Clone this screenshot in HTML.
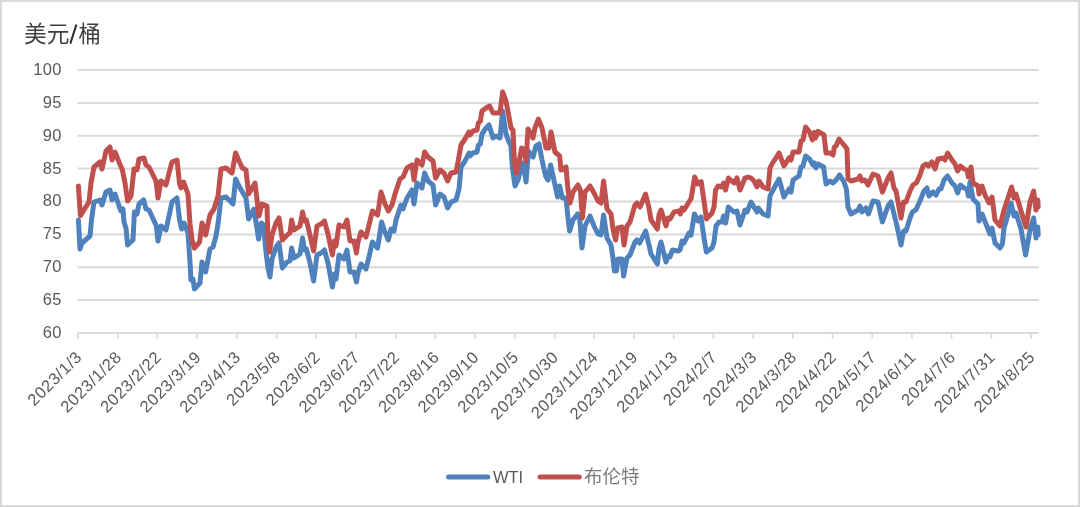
<!DOCTYPE html>
<html><head><meta charset="utf-8"><title>chart</title>
<style>
html,body{margin:0;padding:0;background:#fff;}
body{width:1080px;height:507px;overflow:hidden;}
svg{display:block;font-family:"Liberation Sans",sans-serif;will-change:transform;}
</style></head><body>
<svg width="1080" height="507" viewBox="0 0 1080 507">
<rect x="0" y="0" width="1080" height="507" fill="#ffffff"/>
<path d="M0,0H1080V507H0Z M2,2V505H1078V2Z" fill="#d9d9d9" fill-rule="evenodd"/>
<line x1="77.6" y1="333.00" x2="1038.7" y2="333.00" stroke="#d9d9d9" stroke-width="2"/>
<text x="61.8" y="337.90" text-anchor="end" letter-spacing="0.3" font-size="16.5" fill="#595959">60</text>
<line x1="77.6" y1="300.12" x2="1038.7" y2="300.12" stroke="#d9d9d9" stroke-width="2"/>
<text x="61.8" y="305.02" text-anchor="end" letter-spacing="0.3" font-size="16.5" fill="#595959">65</text>
<line x1="77.6" y1="267.25" x2="1038.7" y2="267.25" stroke="#d9d9d9" stroke-width="2"/>
<text x="61.8" y="272.15" text-anchor="end" letter-spacing="0.3" font-size="16.5" fill="#595959">70</text>
<line x1="77.6" y1="234.38" x2="1038.7" y2="234.38" stroke="#d9d9d9" stroke-width="2"/>
<text x="61.8" y="239.28" text-anchor="end" letter-spacing="0.3" font-size="16.5" fill="#595959">75</text>
<line x1="77.6" y1="201.50" x2="1038.7" y2="201.50" stroke="#d9d9d9" stroke-width="2"/>
<text x="61.8" y="206.40" text-anchor="end" letter-spacing="0.3" font-size="16.5" fill="#595959">80</text>
<line x1="77.6" y1="168.62" x2="1038.7" y2="168.62" stroke="#d9d9d9" stroke-width="2"/>
<text x="61.8" y="173.53" text-anchor="end" letter-spacing="0.3" font-size="16.5" fill="#595959">85</text>
<line x1="77.6" y1="135.75" x2="1038.7" y2="135.75" stroke="#d9d9d9" stroke-width="2"/>
<text x="61.8" y="140.65" text-anchor="end" letter-spacing="0.3" font-size="16.5" fill="#595959">90</text>
<line x1="77.6" y1="102.88" x2="1038.7" y2="102.88" stroke="#d9d9d9" stroke-width="2"/>
<text x="61.8" y="107.78" text-anchor="end" letter-spacing="0.3" font-size="16.5" fill="#595959">95</text>
<line x1="77.6" y1="70.00" x2="1038.7" y2="70.00" stroke="#d9d9d9" stroke-width="2"/>
<text x="61.8" y="74.90" text-anchor="end" letter-spacing="0.3" font-size="16.5" fill="#595959">100</text>
<line x1="78.00" y1="333.00" x2="78.00" y2="338.80" stroke="#d9d9d9" stroke-width="1.6"/>
<text transform="translate(82.90,358.10) rotate(-45)" text-anchor="end" letter-spacing="0.55" font-size="16.5" fill="#595959">2023/1/3</text>
<line x1="117.71" y1="333.00" x2="117.71" y2="338.80" stroke="#d9d9d9" stroke-width="1.6"/>
<text transform="translate(122.61,358.10) rotate(-45)" text-anchor="end" letter-spacing="0.55" font-size="16.5" fill="#595959">2023/1/28</text>
<line x1="157.42" y1="333.00" x2="157.42" y2="338.80" stroke="#d9d9d9" stroke-width="1.6"/>
<text transform="translate(162.32,358.10) rotate(-45)" text-anchor="end" letter-spacing="0.55" font-size="16.5" fill="#595959">2023/2/22</text>
<line x1="197.13" y1="333.00" x2="197.13" y2="338.80" stroke="#d9d9d9" stroke-width="1.6"/>
<text transform="translate(202.03,358.10) rotate(-45)" text-anchor="end" letter-spacing="0.55" font-size="16.5" fill="#595959">2023/3/19</text>
<line x1="236.84" y1="333.00" x2="236.84" y2="338.80" stroke="#d9d9d9" stroke-width="1.6"/>
<text transform="translate(241.74,358.10) rotate(-45)" text-anchor="end" letter-spacing="0.55" font-size="16.5" fill="#595959">2023/4/13</text>
<line x1="276.55" y1="333.00" x2="276.55" y2="338.80" stroke="#d9d9d9" stroke-width="1.6"/>
<text transform="translate(281.45,358.10) rotate(-45)" text-anchor="end" letter-spacing="0.55" font-size="16.5" fill="#595959">2023/5/8</text>
<line x1="316.26" y1="333.00" x2="316.26" y2="338.80" stroke="#d9d9d9" stroke-width="1.6"/>
<text transform="translate(321.16,358.10) rotate(-45)" text-anchor="end" letter-spacing="0.55" font-size="16.5" fill="#595959">2023/6/2</text>
<line x1="355.97" y1="333.00" x2="355.97" y2="338.80" stroke="#d9d9d9" stroke-width="1.6"/>
<text transform="translate(360.87,358.10) rotate(-45)" text-anchor="end" letter-spacing="0.55" font-size="16.5" fill="#595959">2023/6/27</text>
<line x1="395.68" y1="333.00" x2="395.68" y2="338.80" stroke="#d9d9d9" stroke-width="1.6"/>
<text transform="translate(400.58,358.10) rotate(-45)" text-anchor="end" letter-spacing="0.55" font-size="16.5" fill="#595959">2023/7/22</text>
<line x1="435.39" y1="333.00" x2="435.39" y2="338.80" stroke="#d9d9d9" stroke-width="1.6"/>
<text transform="translate(440.29,358.10) rotate(-45)" text-anchor="end" letter-spacing="0.55" font-size="16.5" fill="#595959">2023/8/16</text>
<line x1="475.10" y1="333.00" x2="475.10" y2="338.80" stroke="#d9d9d9" stroke-width="1.6"/>
<text transform="translate(480.00,358.10) rotate(-45)" text-anchor="end" letter-spacing="0.55" font-size="16.5" fill="#595959">2023/9/10</text>
<line x1="514.81" y1="333.00" x2="514.81" y2="338.80" stroke="#d9d9d9" stroke-width="1.6"/>
<text transform="translate(519.71,358.10) rotate(-45)" text-anchor="end" letter-spacing="0.55" font-size="16.5" fill="#595959">2023/10/5</text>
<line x1="554.52" y1="333.00" x2="554.52" y2="338.80" stroke="#d9d9d9" stroke-width="1.6"/>
<text transform="translate(559.42,358.10) rotate(-45)" text-anchor="end" letter-spacing="0.55" font-size="16.5" fill="#595959">2023/10/30</text>
<line x1="594.23" y1="333.00" x2="594.23" y2="338.80" stroke="#d9d9d9" stroke-width="1.6"/>
<text transform="translate(599.13,358.10) rotate(-45)" text-anchor="end" letter-spacing="0.55" font-size="16.5" fill="#595959">2023/11/24</text>
<line x1="633.94" y1="333.00" x2="633.94" y2="338.80" stroke="#d9d9d9" stroke-width="1.6"/>
<text transform="translate(638.84,358.10) rotate(-45)" text-anchor="end" letter-spacing="0.55" font-size="16.5" fill="#595959">2023/12/19</text>
<line x1="673.65" y1="333.00" x2="673.65" y2="338.80" stroke="#d9d9d9" stroke-width="1.6"/>
<text transform="translate(678.55,358.10) rotate(-45)" text-anchor="end" letter-spacing="0.55" font-size="16.5" fill="#595959">2024/1/13</text>
<line x1="713.36" y1="333.00" x2="713.36" y2="338.80" stroke="#d9d9d9" stroke-width="1.6"/>
<text transform="translate(718.26,358.10) rotate(-45)" text-anchor="end" letter-spacing="0.55" font-size="16.5" fill="#595959">2024/2/7</text>
<line x1="753.07" y1="333.00" x2="753.07" y2="338.80" stroke="#d9d9d9" stroke-width="1.6"/>
<text transform="translate(757.97,358.10) rotate(-45)" text-anchor="end" letter-spacing="0.55" font-size="16.5" fill="#595959">2024/3/3</text>
<line x1="792.78" y1="333.00" x2="792.78" y2="338.80" stroke="#d9d9d9" stroke-width="1.6"/>
<text transform="translate(797.68,358.10) rotate(-45)" text-anchor="end" letter-spacing="0.55" font-size="16.5" fill="#595959">2024/3/28</text>
<line x1="832.49" y1="333.00" x2="832.49" y2="338.80" stroke="#d9d9d9" stroke-width="1.6"/>
<text transform="translate(837.39,358.10) rotate(-45)" text-anchor="end" letter-spacing="0.55" font-size="16.5" fill="#595959">2024/4/22</text>
<line x1="872.20" y1="333.00" x2="872.20" y2="338.80" stroke="#d9d9d9" stroke-width="1.6"/>
<text transform="translate(877.10,358.10) rotate(-45)" text-anchor="end" letter-spacing="0.55" font-size="16.5" fill="#595959">2024/5/17</text>
<line x1="911.91" y1="333.00" x2="911.91" y2="338.80" stroke="#d9d9d9" stroke-width="1.6"/>
<text transform="translate(916.81,358.10) rotate(-45)" text-anchor="end" letter-spacing="0.55" font-size="16.5" fill="#595959">2024/6/11</text>
<line x1="951.62" y1="333.00" x2="951.62" y2="338.80" stroke="#d9d9d9" stroke-width="1.6"/>
<text transform="translate(956.52,358.10) rotate(-45)" text-anchor="end" letter-spacing="0.55" font-size="16.5" fill="#595959">2024/7/6</text>
<line x1="991.33" y1="333.00" x2="991.33" y2="338.80" stroke="#d9d9d9" stroke-width="1.6"/>
<text transform="translate(996.23,358.10) rotate(-45)" text-anchor="end" letter-spacing="0.55" font-size="16.5" fill="#595959">2024/7/31</text>
<line x1="1031.04" y1="333.00" x2="1031.04" y2="338.80" stroke="#d9d9d9" stroke-width="1.6"/>
<text transform="translate(1035.94,358.10) rotate(-45)" text-anchor="end" letter-spacing="0.55" font-size="16.5" fill="#595959">2024/8/25</text>
<path d="M78.4,220.0 L80.0,249.0 L82.0,243.0 L90.0,236.0 L91.6,219.0 L94.0,202.0 L100.0,200.0 L102.0,205.0 L106.0,192.0 L110.0,190.0 L112.0,200.0 L115.0,194.0 L119.0,206.0 L121.0,211.0 L123.0,209.0 L124.0,222.0 L126.0,228.0 L127.6,245.0 L133.0,240.0 L134.4,212.0 L137.0,214.0 L139.0,204.0 L143.6,200.0 L146.0,209.0 L149.0,210.0 L156.4,226.0 L158.0,241.0 L161.0,226.0 L166.0,230.0 L169.0,216.0 L172.0,202.0 L177.0,198.0 L179.6,220.0 L181.6,229.0 L184.0,223.0 L188.0,233.0 L190.0,262.0 L191.0,280.0 L193.0,279.0 L194.4,289.0 L200.0,283.0 L202.0,262.0 L205.6,272.0 L210.0,249.0 L213.0,247.0 L216.0,236.0 L218.0,224.0 L221.0,198.0 L226.0,197.0 L233.0,204.0 L235.6,179.0 L239.0,186.0 L242.4,192.0 L246.0,198.0 L248.6,219.0 L254.0,209.0 L258.6,239.0 L261.4,223.0 L263.6,225.0 L266.0,252.0 L268.0,268.0 L270.0,277.0 L272.0,259.0 L276.0,247.0 L279.0,243.0 L282.4,268.0 L287.0,262.0 L290.0,261.0 L291.6,248.0 L294.0,258.0 L300.0,254.0 L302.6,238.0 L304.4,250.0 L306.4,249.0 L310.0,263.0 L313.6,281.0 L317.0,255.0 L321.0,253.0 L324.4,250.0 L328.0,263.0 L332.4,287.0 L334.4,274.0 L336.0,279.0 L339.0,255.0 L344.0,259.0 L347.0,250.0 L350.0,272.0 L354.0,272.0 L356.4,282.0 L358.0,273.0 L361.0,264.0 L366.0,269.0 L369.0,257.0 L372.4,242.0 L377.6,248.0 L381.6,222.0 L385.0,232.0 L388.4,240.0 L391.0,229.0 L394.0,231.0 L396.0,220.0 L401.0,205.0 L403.0,209.0 L407.0,198.0 L412.0,190.0 L414.0,204.0 L417.0,183.0 L422.0,188.0 L424.6,173.0 L428.0,181.0 L433.0,185.0 L435.6,205.0 L440.0,194.0 L444.0,197.0 L447.6,208.0 L451.0,202.0 L456.0,200.0 L459.0,189.0 L461.0,167.0 L465.0,161.0 L469.0,153.0 L470.0,156.0 L473.0,153.0 L477.0,152.0 L478.4,145.0 L480.4,144.0 L482.0,134.0 L486.0,128.0 L489.0,125.0 L493.0,138.0 L496.0,136.0 L500.0,138.0 L502.6,111.0 L506.0,134.0 L509.0,142.0 L511.0,146.0 L512.4,168.0 L515.0,186.0 L518.0,180.0 L522.4,163.0 L524.0,167.0 L526.0,182.0 L528.4,151.0 L533.0,157.0 L536.0,146.0 L539.0,144.0 L542.0,160.0 L545.6,176.0 L548.0,180.0 L550.6,165.0 L555.0,185.0 L557.6,197.0 L559.6,186.0 L562.4,198.0 L566.0,198.0 L568.0,218.0 L569.6,231.0 L573.0,220.0 L577.6,214.0 L579.6,218.0 L582.0,248.0 L585.0,226.0 L590.0,216.0 L594.0,226.0 L598.0,234.0 L601.0,235.0 L603.6,215.0 L607.0,238.0 L611.0,245.0 L613.0,258.0 L614.4,271.0 L616.4,271.0 L618.0,259.0 L622.0,259.0 L623.6,276.0 L627.0,258.0 L630.0,255.0 L635.0,242.0 L637.0,240.0 L639.6,243.0 L645.6,231.0 L649.0,245.0 L651.0,254.0 L657.4,264.0 L659.0,249.0 L661.0,242.0 L666.0,262.0 L668.0,256.0 L670.0,257.0 L672.4,250.0 L678.0,251.0 L680.0,250.0 L682.0,241.0 L684.0,243.0 L689.0,233.0 L691.0,235.0 L694.4,214.0 L698.0,221.0 L701.0,217.0 L704.0,238.0 L706.4,252.0 L712.0,248.0 L714.0,242.0 L716.0,226.0 L719.0,222.0 L722.0,222.0 L723.6,216.0 L725.6,223.0 L728.4,207.0 L734.0,212.0 L737.0,211.0 L740.0,225.0 L745.0,210.0 L747.0,212.0 L751.0,202.0 L757.0,212.0 L758.4,208.0 L763.0,214.0 L768.0,216.0 L770.0,196.0 L772.0,192.0 L779.0,179.0 L784.0,197.0 L789.0,189.0 L791.0,192.0 L793.0,180.0 L799.0,176.0 L801.0,167.0 L803.0,166.0 L805.6,156.0 L809.6,159.0 L813.0,165.0 L814.4,163.0 L816.0,168.0 L818.0,164.0 L823.6,167.0 L826.0,184.0 L830.0,181.0 L833.0,183.0 L836.0,180.0 L839.6,175.0 L844.0,182.0 L846.4,189.0 L848.0,207.0 L851.0,214.0 L858.0,210.0 L860.0,206.0 L862.0,212.0 L866.0,208.0 L868.4,214.0 L873.0,201.0 L878.0,202.0 L882.4,222.0 L888.0,206.0 L891.0,202.0 L894.0,214.0 L897.0,226.0 L901.0,245.0 L903.6,231.0 L906.0,231.0 L910.0,218.0 L912.4,212.0 L916.0,209.6 L920.0,201.0 L924.0,191.0 L927.0,188.0 L929.0,196.0 L933.0,192.0 L936.0,195.0 L939.0,189.0 L941.0,189.0 L944.0,180.0 L947.6,176.0 L952.0,183.0 L955.0,186.0 L957.6,193.0 L960.4,185.0 L964.0,188.0 L967.0,189.0 L968.4,196.0 L970.0,182.0 L973.0,199.0 L978.0,204.0 L979.0,221.0 L982.0,214.0 L986.0,224.0 L990.0,234.0 L992.0,228.0 L995.0,243.0 L1000.0,248.0 L1002.4,244.0 L1004.0,228.0 L1007.0,218.0 L1011.0,203.0 L1014.0,216.0 L1016.0,213.0 L1021.0,229.0 L1025.6,255.0 L1030.0,230.0 L1033.6,218.0 L1036.0,238.0 L1037.8,227.0 L1038.2,235.0" fill="none" stroke="#4f81bd" stroke-width="5.0" stroke-linejoin="round" stroke-linecap="round"/>
<path d="M78.4,186.0 L80.4,215.6 L89.0,202.0 L91.0,183.0 L94.0,167.0 L100.0,162.0 L102.0,169.0 L106.0,151.0 L110.0,147.0 L112.0,160.0 L115.0,152.0 L119.0,162.0 L122.4,170.0 L125.0,183.0 L127.6,201.0 L131.0,196.0 L134.0,169.0 L137.0,170.0 L139.0,159.0 L144.0,158.0 L146.0,165.0 L149.0,167.0 L156.0,181.0 L158.0,198.0 L161.0,181.0 L166.0,185.0 L169.0,173.0 L172.0,162.0 L177.0,160.0 L179.6,184.0 L181.0,188.0 L183.6,182.0 L188.0,194.0 L190.0,224.0 L192.0,240.0 L194.4,248.0 L199.6,242.0 L202.0,223.0 L205.6,235.0 L210.0,215.0 L214.0,209.0 L218.0,196.0 L221.0,169.0 L226.0,168.0 L232.0,173.0 L235.6,153.0 L239.0,161.0 L242.4,168.0 L246.0,170.0 L248.6,194.0 L255.0,183.0 L259.0,216.0 L262.0,204.0 L267.0,206.0 L268.0,240.0 L269.6,252.0 L272.0,235.0 L276.0,223.0 L279.0,218.0 L282.4,240.0 L287.0,235.0 L290.0,233.0 L291.6,220.0 L294.0,230.0 L300.0,226.0 L302.6,212.0 L304.4,221.0 L306.4,220.0 L309.0,231.0 L313.6,251.0 L317.0,226.0 L321.0,224.0 L324.4,221.0 L328.0,234.0 L332.4,255.0 L334.4,241.0 L336.0,246.0 L339.0,225.0 L344.0,227.0 L347.0,220.0 L350.0,241.0 L354.0,241.0 L356.4,253.0 L358.0,242.0 L361.0,232.0 L366.0,237.0 L369.0,225.0 L372.4,211.0 L377.6,215.0 L381.0,192.0 L385.0,204.0 L388.4,211.0 L392.0,205.0 L395.0,194.0 L400.0,179.0 L403.0,177.0 L407.0,168.0 L412.0,165.0 L414.0,180.0 L417.0,160.0 L422.0,165.0 L424.6,152.0 L428.0,157.0 L433.0,161.0 L435.6,178.0 L440.0,170.0 L444.0,173.0 L447.6,181.0 L451.0,173.0 L456.0,172.0 L458.0,162.0 L461.0,145.0 L465.0,139.0 L469.0,132.0 L470.0,135.0 L473.0,131.0 L477.0,130.0 L478.4,123.0 L480.4,121.0 L482.0,111.0 L486.0,108.0 L489.6,106.0 L493.0,113.0 L500.0,113.0 L502.6,92.0 L506.0,101.0 L509.0,117.0 L511.0,128.0 L513.0,130.0 L514.4,160.0 L516.0,173.0 L518.0,168.0 L521.6,148.0 L524.0,150.0 L526.0,161.0 L528.0,129.0 L533.0,138.0 L535.0,128.0 L538.4,119.0 L542.0,128.0 L546.0,148.0 L549.0,148.0 L551.0,132.0 L555.0,152.0 L559.6,156.0 L561.0,170.0 L566.0,167.0 L568.0,190.0 L570.0,203.0 L573.0,192.0 L578.0,185.0 L580.4,190.0 L582.4,218.0 L585.0,192.0 L590.0,186.0 L594.0,193.0 L598.0,201.0 L601.0,203.0 L603.6,181.0 L607.0,209.0 L611.0,214.0 L613.0,229.0 L615.6,240.0 L617.6,228.0 L622.0,227.0 L624.0,245.0 L627.0,226.0 L630.0,222.0 L635.0,205.0 L637.0,203.0 L640.0,207.0 L645.6,194.0 L649.0,208.0 L651.0,220.0 L657.4,229.0 L659.0,215.0 L661.0,210.0 L666.0,226.0 L668.0,218.0 L670.0,219.0 L674.0,212.0 L679.0,211.0 L680.4,214.0 L682.0,208.0 L684.0,210.0 L689.0,202.0 L691.2,198.2 L693.2,186.0 L694.7,177.0 L697.7,184.0 L701.2,181.6 L704.3,203.2 L706.3,218.2 L706.4,219.0 L712.0,213.0 L714.0,207.0 L715.6,190.0 L718.0,186.0 L722.0,187.0 L723.6,183.0 L725.6,190.0 L728.4,178.0 L734.0,183.0 L737.0,178.0 L740.0,190.0 L745.0,178.0 L748.0,177.0 L751.0,178.0 L754.0,181.0 L757.0,187.0 L759.0,181.0 L763.0,187.0 L768.0,189.0 L770.0,168.0 L772.0,164.0 L779.0,153.0 L784.0,166.0 L789.0,158.0 L791.0,160.0 L793.0,152.0 L799.0,152.0 L801.0,141.0 L803.0,140.0 L805.6,127.0 L809.6,132.0 L812.4,140.0 L814.4,132.4 L815.6,138.0 L818.0,131.4 L824.0,135.0 L826.0,153.0 L830.0,153.0 L833.0,155.0 L834.4,147.0 L836.0,146.0 L839.0,139.0 L844.0,145.0 L847.0,149.0 L848.0,179.0 L851.0,181.0 L858.0,179.0 L860.0,176.0 L862.0,181.0 L865.0,180.0 L868.0,185.0 L873.0,174.0 L878.0,176.0 L882.4,192.0 L888.0,178.0 L891.0,173.0 L894.0,188.0 L896.0,191.0 L901.0,218.0 L903.6,202.0 L906.0,202.0 L910.0,191.0 L913.0,185.0 L916.0,183.0 L916.4,183.0 L920.0,175.0 L923.0,166.0 L926.0,164.0 L928.4,166.0 L932.0,162.0 L935.0,169.0 L938.0,159.0 L943.0,158.0 L945.0,160.0 L947.6,153.0 L952.0,160.0 L955.0,164.0 L957.6,171.0 L960.4,166.0 L964.0,169.0 L967.0,170.0 L968.4,177.0 L971.0,167.0 L973.0,183.0 L978.0,186.0 L979.0,194.0 L982.0,186.0 L985.0,195.0 L989.0,203.0 L992.0,197.0 L995.0,220.0 L1000.0,226.0 L1004.0,210.0 L1007.0,201.0 L1011.6,187.0 L1014.0,198.0 L1016.0,194.0 L1021.0,211.0 L1026.0,227.0 L1030.0,202.0 L1033.6,191.0 L1036.0,210.0 L1037.8,200.0 L1038.2,207.0" fill="none" stroke="#c0504d" stroke-width="5.0" stroke-linejoin="round" stroke-linecap="round"/>
<text x="24" y="41.6" font-size="22.3" fill="#404040" font-family="'Liberation Sans','Noto Sans CJK SC',sans-serif" textLength="45.5" lengthAdjust="spacingAndGlyphs">美元</text>
<line x1="70.3" y1="43.6" x2="76.4" y2="24.6" stroke="#2b2b2b" stroke-width="2"/>
<text x="78.6" y="41.6" font-size="22.3" fill="#404040" font-family="'Liberation Sans','Noto Sans CJK SC',sans-serif">桶</text>
<line x1="448.6" y1="477" x2="487.8" y2="477" stroke="#4f81bd" stroke-width="5" stroke-linecap="round"/>
<text x="492.9" y="482.6" font-size="16.8" textLength="30.3" lengthAdjust="spacingAndGlyphs" fill="#595959">WTI</text>
<line x1="540" y1="477" x2="579.3" y2="477" stroke="#c0504d" stroke-width="5" stroke-linecap="round"/>
<text x="584.1" y="482.8" font-size="18.4" fill="#7a7a7a" font-family="'Liberation Sans','Noto Sans CJK SC',sans-serif" textLength="55.5" lengthAdjust="spacingAndGlyphs">布伦特</text>
</svg>
</body></html>
